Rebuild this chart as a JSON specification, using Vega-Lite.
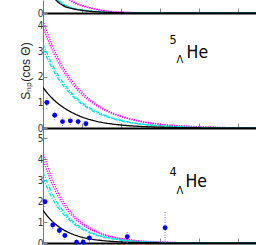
{
  "$schema": "https://vega.github.io/schema/vega-lite/v6.json",
  "padding": {"left": 19, "top": 0, "right": 0, "bottom": 0},
  "spacing": 0,
  "bounds": "flush",
  "config": {
    "view": {"stroke": null},
    "axis": {"grid": false, "labelFont": "DejaVu Sans Condensed, Liberation Sans, sans-serif", "labelFontSize": 10, "labelColor": "#333", "titleFont": "Liberation Sans, sans-serif", "titleFontWeight": "normal", "titleColor": "#222", "tickColor": "#888"},
    "axisX": {"domainColor": "#000", "domainWidth": 2, "labels": false, "tickSize": -5, "values": [0, 1, 2, 3, 4, 5]},
    "axisY": {"domainColor": "#777", "domainWidth": 1, "tickSize": -4, "labelPadding": 4, "titleFontSize": 12, "titlePadding": 5, "format": "d"}
  },
  "datasets": {
    "top_c": [
      {"x": 0, "m1": 3.0, "m2": 2.8, "c1": 2.5, "c2": 2.3, "k": 2.0},
      {"x": 0.25, "m1": 1.3, "m2": 1.2, "c1": 0.85, "c2": 0.8, "k": 0.7},
      {"x": 0.5, "m1": 0.8, "m2": 0.74, "c1": 0.38, "c2": 0.35, "k": 0.3},
      {"x": 0.75, "m1": 0.46, "m2": 0.42, "c1": 0.2, "c2": 0.19, "k": 0.17},
      {"x": 1, "m1": 0.3, "m2": 0.27, "c1": 0.12, "c2": 0.11, "k": 0.1},
      {"x": 1.25, "m1": 0.19, "m2": 0.17, "c1": 0.07, "c2": 0.065, "k": 0.06},
      {"x": 1.5, "m1": 0.11, "m2": 0.1, "c1": 0.04, "c2": 0.037, "k": 0.035},
      {"x": 1.75, "m1": 0.06, "m2": 0.055, "c1": 0.022, "c2": 0.02, "k": 0.02},
      {"x": 2, "m1": 0.035, "m2": 0.032, "c1": 0.012, "c2": 0.011, "k": 0.01},
      {"x": 2.5, "m1": 0.012, "m2": 0.011, "c1": 0.004, "c2": 0.004, "k": 0.003},
      {"x": 3, "m1": 0.004, "m2": 0.004, "c1": 0.001, "c2": 0.001, "k": 0.001},
      {"x": 5.46, "m1": 0, "m2": 0, "c1": 0, "c2": 0, "k": 0}
    ],
    "mid_c": [
      {"x": 0, "m1": 4.2, "m2": 3.95, "c1": 3.3, "c2": 3.1, "k": 1.58},
      {"x": 0.25, "m1": 3.19, "m2": 3.0, "c1": 2.44, "c2": 2.3, "k": 1.14},
      {"x": 0.5, "m1": 2.42, "m2": 2.28, "c1": 1.81, "c2": 1.7, "k": 0.83},
      {"x": 0.75, "m1": 1.84, "m2": 1.73, "c1": 1.34, "c2": 1.26, "k": 0.6},
      {"x": 1, "m1": 1.4, "m2": 1.31, "c1": 0.99, "c2": 0.93, "k": 0.43},
      {"x": 1.25, "m1": 1.06, "m2": 1.0, "c1": 0.74, "c2": 0.69, "k": 0.31},
      {"x": 1.5, "m1": 0.81, "m2": 0.76, "c1": 0.55, "c2": 0.51, "k": 0.22},
      {"x": 1.75, "m1": 0.61, "m2": 0.58, "c1": 0.4, "c2": 0.38, "k": 0.16},
      {"x": 2, "m1": 0.47, "m2": 0.44, "c1": 0.3, "c2": 0.28, "k": 0.117},
      {"x": 2.5, "m1": 0.27, "m2": 0.25, "c1": 0.16, "c2": 0.15, "k": 0.061},
      {"x": 3, "m1": 0.15, "m2": 0.14, "c1": 0.09, "c2": 0.08, "k": 0.032},
      {"x": 3.5, "m1": 0.09, "m2": 0.08, "c1": 0.05, "c2": 0.045, "k": 0.017},
      {"x": 4, "m1": 0.05, "m2": 0.045, "c1": 0.02, "c2": 0.02, "k": 0.009},
      {"x": 4.5, "m1": 0.025, "m2": 0.02, "c1": 0.01, "c2": 0.01, "k": 0.004},
      {"x": 5.46, "m1": 0.005, "m2": 0.005, "c1": 0.003, "c2": 0.003, "k": 0.001}
    ],
    "bot_c": [
      {"x": 0, "m1": 4.35, "m2": 4.0, "c1": 3.4, "c2": 3.1, "k": 1.55},
      {"x": 0.25, "m1": 2.99, "m2": 2.75, "c1": 2.31, "c2": 2.1, "k": 1.01},
      {"x": 0.5, "m1": 2.05, "m2": 1.89, "c1": 1.57, "c2": 1.43, "k": 0.66},
      {"x": 0.75, "m1": 1.41, "m2": 1.3, "c1": 1.06, "c2": 0.97, "k": 0.43},
      {"x": 1, "m1": 0.97, "m2": 0.89, "c1": 0.72, "c2": 0.66, "k": 0.28},
      {"x": 1.25, "m1": 0.67, "m2": 0.61, "c1": 0.49, "c2": 0.45, "k": 0.18},
      {"x": 1.5, "m1": 0.46, "m2": 0.42, "c1": 0.33, "c2": 0.3, "k": 0.12},
      {"x": 1.75, "m1": 0.31, "m2": 0.29, "c1": 0.23, "c2": 0.21, "k": 0.08},
      {"x": 2, "m1": 0.22, "m2": 0.2, "c1": 0.15, "c2": 0.14, "k": 0.05},
      {"x": 2.5, "m1": 0.1, "m2": 0.09, "c1": 0.07, "c2": 0.065, "k": 0.022},
      {"x": 3, "m1": 0.05, "m2": 0.045, "c1": 0.03, "c2": 0.028, "k": 0.01},
      {"x": 3.5, "m1": 0.02, "m2": 0.02, "c1": 0.015, "c2": 0.013, "k": 0.004},
      {"x": 4, "m1": 0.01, "m2": 0.01, "c1": 0.007, "c2": 0.006, "k": 0.002},
      {"x": 5.46, "m1": 0, "m2": 0, "c1": 0, "c2": 0, "k": 0}
    ],
    "mid_p": [
      {"x": 0.1, "v": 1.0},
      {"x": 0.3, "v": 0.5},
      {"x": 0.5, "v": 0.25},
      {"x": 0.7, "v": 0.28},
      {"x": 0.9, "v": 0.25},
      {"x": 1.1, "v": 0.17}
    ],
    "mid_e": [
      {"x": 0.1, "v": 0.75, "hi": 1.25},
      {"x": 0.3, "v": 0.3, "hi": 0.7},
      {"x": 0.5, "v": 0.08, "hi": 0.42},
      {"x": 0.7, "v": 0.12, "hi": 0.44},
      {"x": 0.9, "v": 0.1, "hi": 0.4},
      {"x": 1.1, "v": 0.03, "hi": 0.31}
    ],
    "bot_p": [
      {"x": 0.05, "v": 1.97},
      {"x": 0.25, "v": 0.86},
      {"x": 0.42, "v": 0.6},
      {"x": 0.56, "v": 0.36},
      {"x": 0.86, "v": 0.04},
      {"x": 1.03, "v": 0.04},
      {"x": 1.19, "v": 0.24},
      {"x": 2.16, "v": 0.3},
      {"x": 3.13, "v": 0.73}
    ],
    "bot_e": [
      {"x": 0.05, "v": 1.72, "hi": 2.22},
      {"x": 0.25, "v": 0.66, "hi": 1.06},
      {"x": 0.42, "v": 0.4, "hi": 0.8},
      {"x": 0.56, "v": 0.16, "hi": 0.56},
      {"x": 0.86, "v": 0, "hi": 0.2},
      {"x": 1.03, "v": 0, "hi": 0.2},
      {"x": 1.19, "v": 0.04, "hi": 0.44},
      {"x": 2.16, "v": 0.0, "hi": 0.6},
      {"x": 3.13, "v": 0, "hi": 1.54}
    ],
    "mid_t": [
      {"t": "5", "x": 3.24, "v": 3.28, "k": "sup"},
      {"t": "Λ", "x": 3.42, "v": 2.55, "k": "sub"},
      {"t": "He", "x": 3.68, "v": 2.75, "k": "main"}
    ],
    "bot_t": [
      {"t": "4", "x": 3.24, "v": 3.21, "k": "sup"},
      {"t": "Λ", "x": 3.42, "v": 2.34, "k": "sub"},
      {"t": "He", "x": 3.65, "v": 2.68, "k": "main"}
    ]
  },
  "vconcat": [
    {
      "width": 213, "height": 13,
      "data": {"name": "top_c"},
      "transform": [{"fold": ["m1", "m2", "c1", "c2", "k"], "as": ["s", "v"]}],
      "mark": {"type": "line", "clip": true, "interpolate": "monotone"},
      "encoding": {
        "x": {"field": "x", "type": "quantitative", "scale": {"domain": [0, 5.46], "nice": false}, "axis": {"title": null}},
        "y": {"field": "v", "type": "quantitative", "scale": {"domain": [0, 0.5], "nice": false}, "axis": {"values": [0], "title": "S", "titleOpacity": 0}},
        "color": {"field": "s", "type": "nominal", "scale": {"domain": ["m1", "m2", "c1", "c2", "k"], "range": ["#ff00ff", "#ff00ff", "#00e0e0", "#00e0e0", "#000000"]}, "legend": null},
        "strokeDash": {"field": "s", "type": "nominal", "scale": {"domain": ["m1", "m2", "c1", "c2", "k"], "range": [[1.2, 1.2], [1.2, 1.2], [4, 1.5, 1, 1.5], [4, 1.5, 1, 1.5], [1, 0]]}, "legend": null},
        "strokeWidth": {"field": "s", "type": "nominal", "scale": {"domain": ["m1", "m2", "c1", "c2", "k"], "range": [1.3, 1.3, 1.5, 1.5, 2]}, "legend": null}
      }
    },
    {
      "width": 213, "height": 115,
      "encoding": {
        "x": {"field": "x", "type": "quantitative", "scale": {"domain": [0, 5.46], "nice": false}, "axis": {"title": null}},
        "y": {"field": "v", "type": "quantitative", "scale": {"domain": [0, 4.5], "nice": false}, "axis": {"values": [0, 1, 2, 3, 4], "title": "Sₙₚ(cos Θ)"}}
      },
      "layer": [
        {
          "data": {"name": "mid_c"},
          "transform": [{"fold": ["m1", "m2", "c1", "c2", "k"], "as": ["s", "v"]}],
          "mark": {"type": "line", "clip": true, "interpolate": "monotone"},
          "encoding": {
            "color": {"field": "s", "type": "nominal", "scale": {"domain": ["m1", "m2", "c1", "c2", "k"], "range": ["#ff00ff", "#ff00ff", "#00e0e0", "#00e0e0", "#000000"]}, "legend": null},
            "strokeDash": {"field": "s", "type": "nominal", "scale": {"domain": ["m1", "m2", "c1", "c2", "k"], "range": [[1.2, 1.2], [1.2, 1.2], [4, 1.5, 1, 1.5], [4, 1.5, 1, 1.5], [1, 0]]}, "legend": null},
            "strokeWidth": {"field": "s", "type": "nominal", "scale": {"domain": ["m1", "m2", "c1", "c2", "k"], "range": [1.3, 1.3, 1.5, 1.5, 2]}, "legend": null}
          }
        },
        {
          "data": {"name": "mid_e"},
          "mark": {"type": "rule", "clip": true, "strokeDash": [1, 1.5], "color": "#6f6fff", "strokeWidth": 1},
          "encoding": {"y2": {"field": "hi"}}
        },
        {
          "data": {"name": "mid_p"},
          "mark": {"type": "circle", "size": 24, "color": "#0000ff", "opacity": 1}
        },
        {
          "data": {"name": "mid_t"},
          "transform": [{"filter": "datum.k == 'main'"}],
          "mark": {"type": "text", "align": "left", "baseline": "alphabetic", "font": "DejaVu Sans Condensed, Liberation Sans, sans-serif", "fontSize": 17.5, "color": "#000"},
          "encoding": {"text": {"field": "t"}}
        },
        {
          "data": {"name": "mid_t"},
          "transform": [{"filter": "datum.k == 'sup'"}],
          "mark": {"type": "text", "align": "left", "baseline": "alphabetic", "font": "DejaVu Sans Condensed, Liberation Sans, sans-serif", "fontSize": 12.5, "color": "#000"},
          "encoding": {"text": {"field": "t"}}
        },
        {
          "data": {"name": "mid_t"},
          "transform": [{"filter": "datum.k == 'sub'"}],
          "mark": {"type": "text", "align": "left", "baseline": "alphabetic", "font": "DejaVu Sans Condensed, Liberation Sans, sans-serif", "fontSize": 11, "color": "#000"},
          "encoding": {"text": {"field": "t"}}
        }
      ]
    },
    {
      "width": 213, "height": 115,
      "encoding": {
        "x": {"field": "x", "type": "quantitative", "scale": {"domain": [0, 5.46], "nice": false}, "axis": {"title": null}},
        "y": {"field": "v", "type": "quantitative", "scale": {"domain": [0, 5.5], "nice": false}, "axis": {"values": [0, 1, 2, 3, 4, 5], "title": "S", "titleOpacity": 0}}
      },
      "layer": [
        {
          "data": {"name": "bot_c"},
          "transform": [{"fold": ["m1", "m2", "c1", "c2", "k"], "as": ["s", "v"]}],
          "mark": {"type": "line", "clip": true, "interpolate": "monotone"},
          "encoding": {
            "color": {"field": "s", "type": "nominal", "scale": {"domain": ["m1", "m2", "c1", "c2", "k"], "range": ["#ff00ff", "#ff00ff", "#00e0e0", "#00e0e0", "#000000"]}, "legend": null},
            "strokeDash": {"field": "s", "type": "nominal", "scale": {"domain": ["m1", "m2", "c1", "c2", "k"], "range": [[1.2, 1.2], [1.2, 1.2], [4, 1.5, 1, 1.5], [4, 1.5, 1, 1.5], [1, 0]]}, "legend": null},
            "strokeWidth": {"field": "s", "type": "nominal", "scale": {"domain": ["m1", "m2", "c1", "c2", "k"], "range": [1.3, 1.3, 1.5, 1.5, 2]}, "legend": null}
          }
        },
        {
          "data": {"name": "bot_e"},
          "mark": {"type": "rule", "clip": true, "strokeDash": [1, 1.5], "color": "#6f6fff", "strokeWidth": 1},
          "encoding": {"y2": {"field": "hi"}}
        },
        {
          "data": {"name": "bot_p"},
          "mark": {"type": "circle", "size": 24, "color": "#0000ff", "opacity": 1}
        },
        {
          "data": {"name": "bot_t"},
          "transform": [{"filter": "datum.k == 'main'"}],
          "mark": {"type": "text", "align": "left", "baseline": "alphabetic", "font": "DejaVu Sans Condensed, Liberation Sans, sans-serif", "fontSize": 17.5, "color": "#000"},
          "encoding": {"text": {"field": "t"}}
        },
        {
          "data": {"name": "bot_t"},
          "transform": [{"filter": "datum.k == 'sup'"}],
          "mark": {"type": "text", "align": "left", "baseline": "alphabetic", "font": "DejaVu Sans Condensed, Liberation Sans, sans-serif", "fontSize": 12.5, "color": "#000"},
          "encoding": {"text": {"field": "t"}}
        },
        {
          "data": {"name": "bot_t"},
          "transform": [{"filter": "datum.k == 'sub'"}],
          "mark": {"type": "text", "align": "left", "baseline": "alphabetic", "font": "DejaVu Sans Condensed, Liberation Sans, sans-serif", "fontSize": 11, "color": "#000"},
          "encoding": {"text": {"field": "t"}}
        }
      ]
    }
  ]
}
